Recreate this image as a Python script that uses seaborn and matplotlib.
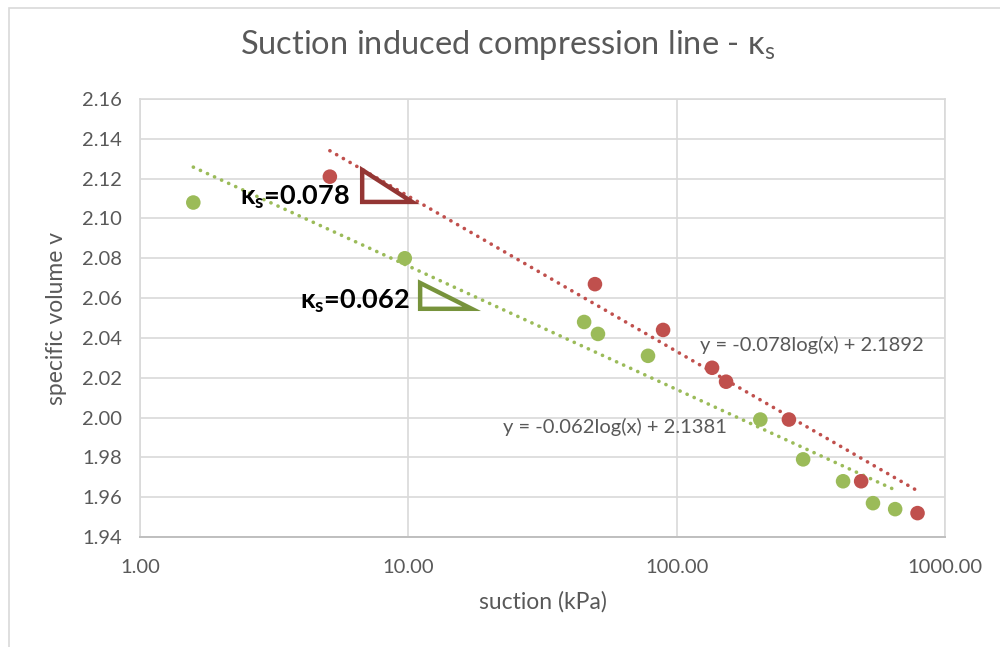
import numpy as np
import pandas as pd
import seaborn as sns
import matplotlib.pyplot as plt
from matplotlib.patches import Polygon, Rectangle
from matplotlib.ticker import FixedLocator, NullLocator, FuncFormatter

# data
red_suction = [5.1, 49.6, 89.0, 135.5, 152.8, 262.0, 487.0, 790.0]
red_volume = [2.121, 2.067, 2.044, 2.025, 2.018, 1.999, 1.968, 1.952]
green_suction = [1.58, 9.7, 45.2, 50.9, 78.2, 205.0, 296.0, 417.0, 539.0, 652.0]
green_volume = [2.108, 2.080, 2.048, 2.042, 2.031, 1.999, 1.979, 1.968, 1.957, 1.954]

# trend line coefficients (y = a*log(x) + b)
red_fit = [-0.078, 2.1892]
green_fit = [-0.062, 2.1381]

RED = "#C0504D"
GREEN = "#9BBB59"
TEXT = "#595959"

sns.set_style("white")
plt.rcParams['font.family'] = ['Lato', 'DejaVu Sans']

fig = plt.figure(figsize=(10, 6.47), dpi=100)
ax = fig.add_axes([0.14, 0.170, 0.805, 0.677])

# outer chart border
fig.patches.append(Rectangle((0.009, -0.1), 1.2, 1.088, transform=fig.transFigure,
                             fill=False, edgecolor="#D9D9D9", lw=1.2))

def trend(xs, coef):
    xx = np.geomspace(min(xs), max(xs), 60)
    return pd.DataFrame({"x": xx, "y": coef[0] * np.log10(xx) + coef[1]})

for xs, coef, c in [(red_suction, red_fit, RED), (green_suction, green_fit, GREEN)]:
    t = trend(xs, coef)
    sns.lineplot(data=t, x="x", y="y", ax=ax, color=c, lw=2.6,
                 linestyle=(0, (0.05, 2.1)), solid_capstyle="round",
                 dash_capstyle="round", zorder=2)

sns.scatterplot(x=red_suction, y=red_volume, ax=ax, color=RED, s=110,
                edgecolor="none", zorder=3)
sns.scatterplot(x=green_suction, y=green_volume, ax=ax, color=GREEN, s=110,
                edgecolor="none", zorder=3)

ax.set_xscale("log")
ax.set_xlim(1, 1000)
ax.set_ylim(1.94, 2.16)
ax.xaxis.set_major_locator(FixedLocator([1, 10, 100, 1000]))
ax.xaxis.set_minor_locator(NullLocator())
ax.xaxis.set_major_formatter(FuncFormatter(lambda v, p: f"{v:.2f}"))
ax.set_yticks(np.arange(1.94, 2.161, 0.02))
ax.yaxis.set_major_formatter(FuncFormatter(lambda v, p: f"{v:.2f}"))
ax.grid(True, color="#D9D9D9", lw=1.2)
ax.set_axisbelow(True)
for s in ["left", "top", "right"]:
    ax.spines[s].set_color("#D9D9D9")
    ax.spines[s].set_linewidth(1.2)
ax.spines["bottom"].set_color("#BFBFBF")
ax.spines["bottom"].set_linewidth(1.4)
ax.tick_params(axis="both", length=0, labelsize=14.5, labelcolor=TEXT)
ax.tick_params(axis="y", pad=13)
ax.tick_params(axis="x", pad=16)

ax.set_xlabel("suction (kPa)", fontsize=16.5, color=TEXT, labelpad=11)
ax.set_ylabel("specific volume v", fontsize=16.5, color=TEXT, labelpad=11)
fig.text(0.508, 0.930, r"Suction induced compression line - κ$_\mathregular{s}$",
         ha="center", va="center", fontsize=23.5, color=TEXT)

# trend line equations
ax.text(0.696, 0.438, "y = -0.078log(x) + 2.1892", transform=ax.transAxes,
        ha="left", va="center", fontsize=14.5, color=TEXT)
ax.text(0.451, 0.251, "y = -0.062log(x) + 2.1381", transform=ax.transAxes,
        ha="left", va="center", fontsize=14.5, color=TEXT)

# slope labels and triangles
ax.text(0.261, 0.776, r"κ$_\mathregular{s}$=0.078", transform=ax.transAxes,
        ha="right", va="center", fontsize=19.5, fontweight="bold", color="black")
ax.text(0.335, 0.539, r"κ$_\mathregular{s}$=0.062", transform=ax.transAxes,
        ha="right", va="center", fontsize=19.5, fontweight="bold", color="black")
ax.add_patch(Polygon([(0.276, 0.838), (0.276, 0.765), (0.338, 0.765)], closed=True,
                     fill=False, edgecolor="#943634", lw=3.2, joinstyle="miter",
                     transform=ax.transAxes, zorder=4))
ax.add_patch(Polygon([(0.348, 0.580), (0.348, 0.521), (0.412, 0.521)], closed=True,
                     fill=False, edgecolor="#77933C", lw=3.2, joinstyle="miter",
                     transform=ax.transAxes, zorder=4))

fig.savefig("out.png", dpi=100, facecolor="white")
